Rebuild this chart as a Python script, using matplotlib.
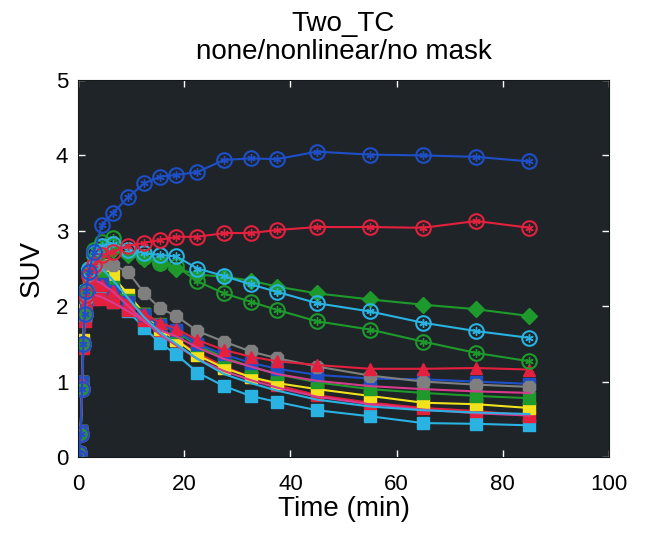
import numpy as np
import matplotlib
matplotlib.use('Agg')
import matplotlib.pyplot as plt

# frame mid-times [min]
t = [0, 0.25, 0.5, 0.75, 1.0, 1.25, 1.5, 2.0, 3.0, 4.5, 6.5, 9.5, 12.5, 15.5,
     18.5, 22.5, 27.5, 32.5, 37.5, 45, 55, 65, 75, 85]

# SUV time-activity curves
suv_blue_c = [0.0, 0.05, 0.3, 0.9, 1.5, 1.9, 2.2, 2.45, 2.72, 3.08, 3.23, 3.45,
              3.63, 3.72, 3.74, 3.78, 3.94, 3.96, 3.95, 4.05, 4.01, 4.0, 3.98, 3.92]
suv_red_c = [0.0, 0.05, 0.3, 0.9, 1.5, 1.9, 2.15, 2.4, 2.55, 2.68, 2.72, 2.8,
             2.84, 2.88, 2.92, 2.92, 2.97, 2.97, 3.01, 3.05, 3.05, 3.04, 3.13, 3.04]
suv_green_c = [0.0, 0.05, 0.3, 0.9, 1.5, 1.9, 2.2, 2.5, 2.75, 2.85, 2.9, 2.75,
               2.65, 2.57, 2.53, 2.33, 2.17, 2.06, 1.95, 1.8, 1.69, 1.53, 1.38, 1.27]
suv_cyan_c = [0.0, 0.05, 0.3, 0.9, 1.5, 1.9, 2.2, 2.5, 2.7, 2.8, 2.83, 2.75,
              2.7, 2.68, 2.66, 2.5, 2.4, 2.29, 2.19, 2.04, 1.93, 1.78, 1.67, 1.58]
suv_green_d = [0.0, 0.05, 0.3, 0.9, 1.5, 1.9, 2.2, 2.5, 2.65, 2.72, 2.74, 2.68,
               2.62, 2.57, 2.5, 2.42, 2.39, 2.34, 2.26, 2.17, 2.09, 2.02, 1.96, 1.87]
suv_gray = [0.0, 0.05, 0.3, 0.9, 1.5, 1.85, 2.1, 2.35, 2.5, 2.55, 2.55, 2.45,
            2.17, 1.97, 1.87, 1.67, 1.53, 1.4, 1.31, 1.2, 1.08, 1.0, 0.96, 0.93]
suv_red_t = [0.0, 0.05, 0.35, 1.0, 1.5, 1.85, 2.05, 2.2, 2.3, 2.28, 2.2, 2.05,
             1.9, 1.78, 1.7, 1.55, 1.42, 1.33, 1.27, 1.22, 1.17, 1.17, 1.18, 1.16]
suv_blue_s = [0.0, 0.05, 0.35, 1.0, 1.5, 1.85, 2.05, 2.2, 2.3, 2.3, 2.2, 2.05,
              1.88, 1.75, 1.68, 1.5, 1.36, 1.25, 1.17, 1.09, 1.04, 1.03, 1.0, 0.97]
suv_magenta = [0.0, 0.05, 0.3, 0.9, 1.4, 1.75, 1.95, 2.1, 2.15, 2.12, 2.05, 1.93,
               1.8, 1.68, 1.6, 1.45, 1.3, 1.2, 1.1, 1.01, 0.94, 0.9, 0.87, 0.85]
suv_green_s = [0.0, 0.05, 0.35, 1.0, 1.5, 1.9, 2.1, 2.3, 2.4, 2.38, 2.25, 2.08,
               1.9, 1.76, 1.66, 1.48, 1.32, 1.2, 1.1, 0.99, 0.9, 0.85, 0.81, 0.78]
suv_yellow_s = [0.0, 0.05, 0.35, 1.0, 1.55, 1.95, 2.2, 2.45, 2.6, 2.55, 2.4, 2.15,
                1.9, 1.7, 1.55, 1.35, 1.18, 1.06, 0.98, 0.9, 0.81, 0.72, 0.7, 0.65]
suv_magenta2 = [0.0, 0.05, 0.3, 0.9, 1.45, 1.85, 2.05, 2.25, 2.35, 2.3, 2.2, 2.0,
                1.8, 1.62, 1.48, 1.3, 1.14, 1.02, 0.92, 0.8, 0.7, 0.63, 0.58, 0.55]
suv_cyan_l = [0.0, 0.05, 0.3, 0.95, 1.5, 1.95, 2.2, 2.45, 2.55, 2.5, 2.35, 2.1,
              1.85, 1.65, 1.5, 1.3, 1.1, 0.98, 0.88, 0.76, 0.67, 0.62, 0.59, 0.57]
suv_red_s = [0.0, 0.05, 0.35, 1.0, 1.45, 1.8, 2.0, 2.1, 2.1, 2.1, 2.06, 1.95,
             1.82, 1.68, 1.55, 1.38, 1.2, 1.06, 0.95, 0.82, 0.72, 0.65, 0.61, 0.55]
suv_cyan_s = [0.0, 0.05, 0.32, 1.0, 1.5, 1.9, 2.1, 2.2, 2.2, 2.15, 2.05, 1.93,
              1.71, 1.51, 1.36, 1.12, 0.94, 0.81, 0.73, 0.62, 0.54, 0.45, 0.44, 0.42]

c_blue = '#1f4fc8'
c_red = '#e3213f'
c_green = '#1e9a2c'
c_cyan = '#2ab2e2'
c_yellow = '#f2e21e'
c_magenta = '#d83a8e'
c_gray = '#7f7f7f'

plt.rcParams['font.family'] = ['Liberation Sans', 'DejaVu Sans']

fig = plt.figure(figsize=(6.46, 5.34), dpi=100)
ax = fig.add_axes([78/646, 1-457/534, (609-78)/646, (457-80)/534])
ax.set_facecolor('#1e2427')

lw = 1.5
# filled-marker curves (drawn first, bottom of the stack)
ax.plot(t, suv_cyan_s, '-s', color=c_cyan, mfc=c_cyan, mec=c_cyan, ms=8.5, lw=lw)
ax.plot(t, suv_red_s, '-s', color=c_red, mfc=c_red, mec=c_red, ms=8.5, lw=lw)
ax.plot(t, suv_yellow_s, '-s', color=c_yellow, mfc=c_yellow, mec=c_yellow, ms=8.5, lw=lw)
ax.plot(t, suv_green_s, '-s', color=c_green, mfc=c_green, mec=c_green, ms=8.5, lw=lw)
ax.plot(t, suv_blue_s, '-s', color=c_blue, mfc=c_blue, mec=c_blue, ms=8.5, lw=lw)
ax.plot(t, suv_gray, '-8', color=c_gray, mfc=c_gray, mec=c_gray, ms=9.5, lw=lw)
ax.plot(t, suv_red_t, '-^', color=c_red, mfc=c_red, mec=c_red, ms=9, lw=lw)
ax.plot(t, suv_green_d, '-D', color=c_green, mfc=c_green, mec=c_green, ms=8.5, lw=lw)

# plain lines
ax.plot(t, suv_magenta, '-', color=c_magenta, lw=lw)
ax.plot(t, suv_magenta2, '-', color=c_magenta, lw=lw)
ax.plot(t, suv_cyan_l, '-', color=c_cyan, lw=lw)

# open circles with asterisk
for y, c in [(suv_green_c, c_green), (suv_cyan_c, c_cyan),
             (suv_red_c, c_red), (suv_blue_c, c_blue)]:
    ax.plot(t, y, '-o', color=c, mfc='none', mec=c, ms=10.5, mew=1.5, lw=lw)
    ax.plot(t, y, ls='none', marker=(6, 2, 0), color=c, ms=6, mew=1)

ax.set_xlim(0, 100)
ax.set_ylim(0, 5)
ax.set_xticks([0, 20, 40, 60, 80, 100])
ax.set_yticks([0, 1, 2, 3, 4, 5])
ax.tick_params(direction='in', length=5, width=1, color='white',
               top=True, right=True, labelsize=16)
ax.tick_params(axis='x', pad=12)
ax.tick_params(axis='y', pad=7)
for s in ax.spines.values():
    s.set_color('#141818')

ax.set_xlabel('Time (min)', fontsize=20, labelpad=1)
ax.set_ylabel('SUV', fontsize=20, labelpad=8)
ax.set_title('Two_TC\nnone/nonlinear/no mask', fontsize=20, linespacing=1.1, pad=15)

fig.savefig('out.png', dpi=100)
